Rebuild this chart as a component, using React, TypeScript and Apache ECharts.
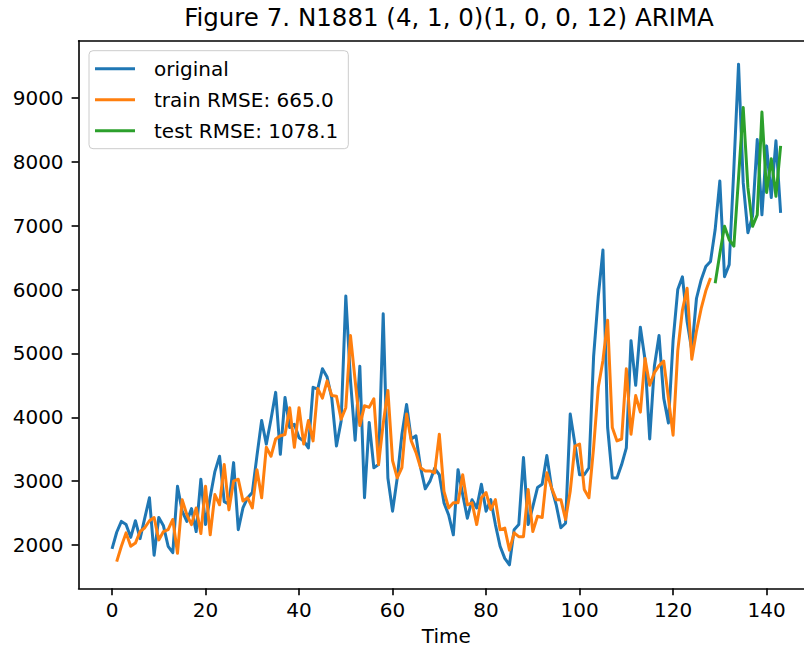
import React, { useEffect, useRef } from "react";
import * as echarts from "echarts";

const chartTitle = "Figure 7. N1881 (4, 1, 0)(1, 0, 0, 12) ARIMA";
const xAxisName = "Time";
const seriesNames = ["original", "train RMSE: 665.0", "test RMSE: 1078.1"];
const seriesColors = ["#1f77b4", "#ff7f0e", "#2ca02c"];

const originalStart = 0;
const originalValues = [
  1940, 2200, 2370, 2320, 2120, 2380, 2100, 2420, 2740, 1840,
  2430, 2300, 1980, 1880, 2920, 2530, 2370, 2570, 2210, 3030,
  2320, 2750, 3150, 3390, 2680, 2640, 3290, 2240, 2580, 2740,
  2820, 3400, 3950, 3580, 3970, 4390, 3420, 4310, 3840, 3890,
  3680, 3630, 3520, 4470, 4440, 4760, 4630, 4300, 3550, 3940,
  5900, 4580, 3640, 4800, 2740, 3920, 3210, 3260, 5620, 3050,
  2530, 3050, 3730, 4200, 3660, 3710, 3210, 2880, 3000, 3200,
  3100, 2660, 2470, 2160, 3180, 2790, 2420, 2710, 2580, 2950,
  2530, 2710, 2320, 1980, 1790, 1690, 2240, 2320, 3370, 2320,
  2600, 2900, 2950, 3400, 2900, 2630, 2270, 2340, 4050, 3580,
  3100, 3100, 3210, 4950, 5890, 6620, 3840, 3050, 3050, 3260,
  3520, 5200, 4500, 5410, 4900, 3660, 4800, 5280, 4300, 3910,
  5200, 6000, 6200, 5500, 5050, 5860, 6150, 6360, 6440, 6940,
  7700, 6200, 6390, 7900, 9530, 7670, 6890, 7150, 8350, 7170,
  8250, 7440, 8330, 7200,
];

const trainStart = 1;
const trainValues = [
  1740, 1980, 2190, 1980, 2030, 2210, 2270, 2380, 2430, 2080,
  2210, 2240, 2400, 1870, 2710, 2475, 2320, 2580, 2180, 2920,
  2160, 2790, 2630, 3260, 2550, 3000, 3030, 2690, 2740, 2580,
  3180, 2740, 3530, 3390, 3660, 3710, 3730, 4150, 3530, 4150,
  3580, 3950, 3630, 4450, 4300, 4570, 4340, 4330, 3970, 4150,
  5280, 4575, 3870, 4180, 4155, 4290, 3260, 3900, 4420, 3320,
  3050, 3210, 4050, 3630, 3450, 3210, 3160, 3160, 3130, 3735,
  2840, 2580, 2660, 2660, 3100, 2630, 2660, 2320, 2740, 2820,
  2555, 2710, 2240, 2265, 1920, 2190, 2130, 2130, 2870, 2210,
  2450, 2430, 3130, 2895, 2710, 2710, 2400, 2840, 3550, 3580,
  2870, 2740, 3525, 4470, 4890, 5520, 3840, 3630, 3660, 4760,
  3735, 4340, 4080, 4920, 4500, 4700, 4810, 4880, 4300, 3720,
  5040, 5680, 6020, 4910, 5350, 5700, 5980, 6180,
];

const testStart = 129;
const testValues = [
  6100, 6560, 6990, 6780, 6680, 7750, 8850, 7600, 6990, 7170,
  8780, 7520, 8050, 7460, 8250,
];

const xTickValues = [0, 20, 40, 60, 80, 100, 120, 140];
const yTickValues = [2000, 3000, 4000, 5000, 6000, 7000, 8000, 9000];

const toPairs = (start: number, values: number[]) =>
  values.map((v, i) => [start + i, v]);

export default function App() {
  const ref = useRef<HTMLDivElement>(null);

  useEffect(() => {
    document.body.style.margin = "0";
    if (!ref.current) return;
    const chart = echarts.init(ref.current, null, { renderer: "svg" });
    const font = "DejaVu Sans";
    const spine = { color: "#000", width: 1.6 };
    const lineOf = (i: number) => ({
      width: 3,
      color: seriesColors[i],
      join: "round",
      cap: "butt",
    });

    chart.setOption({
      animation: false,
      color: seriesColors,
      textStyle: { fontFamily: font },
      title: {
        text: chartTitle,
        left: 444,
        top: 0,
        textAlign: "center",
        textStyle: { fontSize: 24.5, fontWeight: "normal", color: "#000", fontFamily: font },
      },
      legend: {
        orient: "vertical",
        left: 89,
        top: 50.7,
        align: "left",
        itemWidth: 40,
        itemHeight: 3,
        itemGap: 11,
        icon: "rect",
        padding: [8, 10, 8, 6],
        backgroundColor: "rgba(255,255,255,0.8)",
        borderColor: "#cccccc",
        borderWidth: 1,
        borderRadius: 4,
        textStyle: {
          fontSize: 20,
          color: "#000",
          fontFamily: font,
          lineHeight: 20,
          padding: [0, 0, 0, 14],
        },
        data: seriesNames,
      },
      grid: {
        left: 78.6,
        top: 40.7,
        right: 0,
        bottom: 649 - 588.3,
        containLabel: false,
        outerBoundsMode: "none",
      },
      xAxis: [
        {
          type: "value",
          min: -7.15,
          max: 148,
          position: "bottom",
          name: xAxisName,
          nameLocation: "middle",
          nameGap: 38,
          nameTextStyle: { fontSize: 20, color: "#000", fontFamily: font, padding: [0, 0, 0, 10] },
          axisLine: { show: true, onZero: false, lineStyle: spine },
          axisTick: { show: true, customValues: xTickValues, length: 7, lineStyle: spine },
          axisLabel: { customValues: xTickValues, margin: 12, fontSize: 20, color: "#000", fontFamily: font },
          splitLine: { show: false },
        },
        {
          type: "value",
          min: -7.15,
          max: 148,
          position: "top",
          axisLine: { show: true, onZero: false, lineStyle: spine },
          axisTick: { show: false },
          axisLabel: { show: false },
          splitLine: { show: false },
        },
      ],
      yAxis: {
        type: "value",
        min: 1322,
        max: 9897,
        axisLine: { show: true, onZero: false, lineStyle: spine },
        axisTick: { show: true, customValues: yTickValues, length: 7, lineStyle: spine },
        axisLabel: {
          customValues: yTickValues,
          margin: 15,
          fontSize: 20,
          color: "#000",
          fontFamily: font,
          formatter: (v: number) => String(v),
        },
        splitLine: { show: false },
      },
      series: [
        {
          name: seriesNames[0],
          type: "line",
          data: toPairs(originalStart, originalValues),
          showSymbol: false,
          symbol: "none",
          lineStyle: lineOf(0),
          itemStyle: { color: seriesColors[0] },
        },
        {
          name: seriesNames[1],
          type: "line",
          data: toPairs(trainStart, trainValues),
          showSymbol: false,
          symbol: "none",
          lineStyle: lineOf(1),
          itemStyle: { color: seriesColors[1] },
        },
        {
          name: seriesNames[2],
          type: "line",
          data: toPairs(testStart, testValues),
          showSymbol: false,
          symbol: "none",
          lineStyle: lineOf(2),
          itemStyle: { color: seriesColors[2] },
        },
      ],
    });

    return () => chart.dispose();
  }, []);

  return <div ref={ref} style={{ width: 804, height: 649 }} />;
}
